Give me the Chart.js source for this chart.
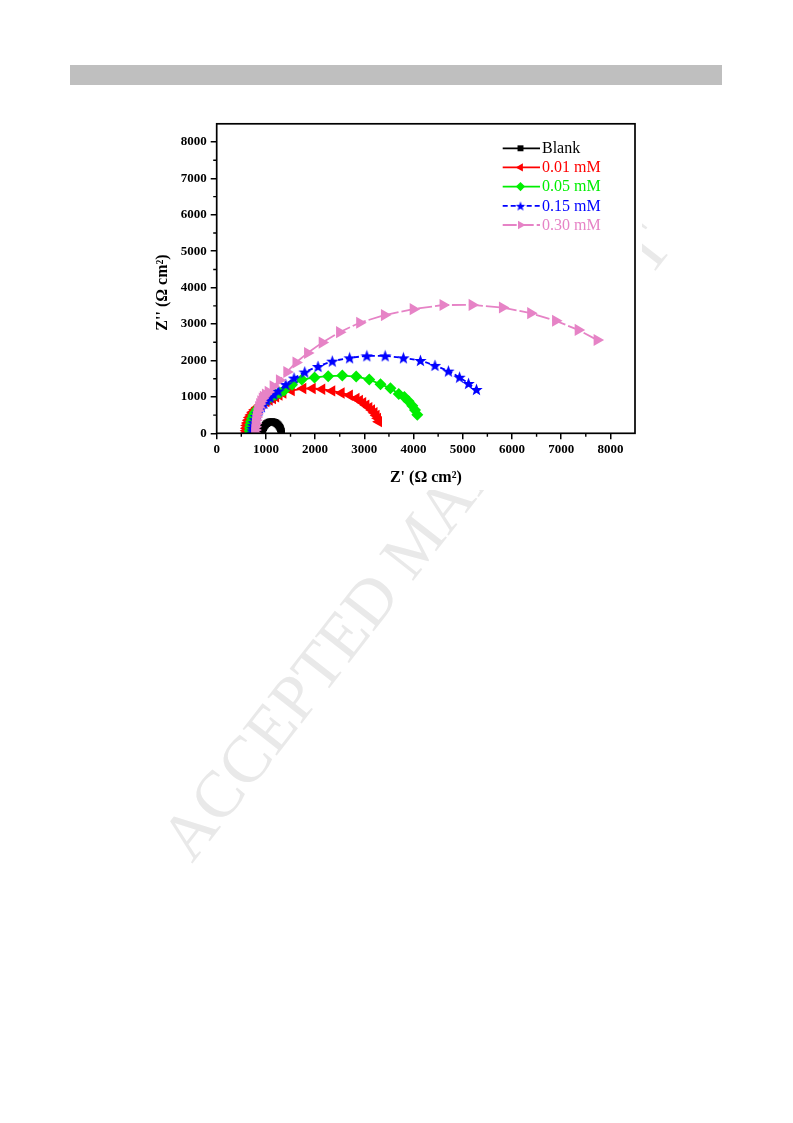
<!DOCTYPE html>
<html>
<head>
<meta charset="utf-8">
<script src="https://cdn.jsdelivr.net/npm/chart.js@4.4.0/dist/chart.umd.min.js"></script>
<style>
  body { margin: 0; background: #fff; }
  #page { position: relative; width: 793px; height: 1123px; overflow: hidden; background: #fff; }
  #bar { position: absolute; left: 70px; top: 65px; width: 652px; height: 20px; background: #bfbfbf; }
  #mark {
    position: absolute; left: 192px; top: 809px;
    font: 66px "Liberation Serif", serif; line-height: 66px;
    color: #e9e9e9; white-space: nowrap;
    transform-origin: 0 55px; transform: rotate(-52deg);
  }
  #chart { position: absolute; left: 150px; top: 112px; }
</style>
</head>
<body>
<div id="page">
  <div id="bar"></div>
  <div id="mark">ACCEPTED MANUSCRIPT</div>
  <canvas id="chart" width="492" height="378"></canvas>
</div>
<script>
// Nyquist plots, Z' (x) and Z'' (y) in ohm cm2
const seriesLabels = ['Blank', '0.01 mM', '0.05 mM', '0.15 mM', '0.30 mM'];

const blankX = [925, 930, 940, 953, 970, 990, 1013, 1038, 1065, 1093, 1121, 1149, 1176, 1202, 1226, 1248, 1267, 1283, 1296, 1306, 1313, 1318];
const blankY = [15, 65, 112, 157, 198, 234, 264, 288, 305, 315, 318, 313, 301, 283, 259, 230, 197, 162, 125, 88, 50, 14];

const redX = [600, 601, 605, 612, 625, 643, 666, 696, 731, 773, 822, 876, 937, 1003, 1070, 1138, 1201, 1270, 1349, 1519, 1754, 1944, 2139, 2342, 2532, 2700, 2835, 2905, 2970, 3035, 3095, 3150, 3200, 3242, 3272, 3292];
const redY = [0, 70, 140, 212, 285, 358, 432, 505, 576, 644, 708, 768, 822, 870, 912, 955, 1000, 1052, 1105, 1172, 1228, 1232, 1210, 1165, 1108, 1046, 958, 900, 838, 772, 706, 638, 566, 490, 410, 320];

const greenX = [670, 670, 675, 684, 698, 718, 744, 777, 816, 862, 916, 977, 1045, 1119, 1200, 1285, 1371, 1530, 1730, 1988, 2265, 2552, 2835, 3100, 3328, 3530, 3699, 3814, 3900, 3975, 4030, 4077];
const greenY = [0, 80, 160, 242, 325, 408, 490, 572, 652, 730, 805, 876, 943, 1005, 1062, 1115, 1175, 1335, 1475, 1535, 1568, 1585, 1558, 1480, 1345, 1240, 1080, 1000, 880, 760, 640, 510];

const blueX = [725, 726, 731, 740, 753, 772, 796, 826, 864, 908, 959, 1018, 1084, 1161, 1249, 1404, 1572, 1789, 2059, 2349, 2700, 3051, 3423, 3794, 4140, 4435, 4708, 4935, 5117, 5279];
const blueY = [0, 65, 135, 210, 290, 375, 462, 550, 640, 730, 820, 905, 985, 1070, 1160, 1340, 1517, 1682, 1836, 1982, 2073, 2127, 2127, 2073, 2000, 1864, 1709, 1540, 1368, 1204];

const pinkX = [775, 777, 781, 787, 795, 805, 818, 833, 852, 873, 897, 925, 948, 990, 1046, 1147, 1275, 1425, 1612, 1846, 2143, 2497, 2905, 3408, 3993, 4600, 5190, 5806, 6380, 6886, 7345, 7730];
const pinkY = [0, 90, 180, 270, 360, 450, 540, 630, 718, 802, 880, 955, 1005, 1065, 1137, 1290, 1456, 1682, 1945, 2204, 2491, 2777, 3036, 3246, 3410, 3523, 3527, 3455, 3300, 3091, 2840, 2564];

const xTicks = [0, 1000, 2000, 3000, 4000, 5000, 6000, 7000, 8000];
const yTicks = [0, 1000, 2000, 3000, 4000, 5000, 6000, 7000, 8000];
const minorTicks = [500, 1500, 2500, 3500, 4500, 5500, 6500, 7500];

function makeStar(size, color) {
  const c = document.createElement('canvas');
  c.width = size; c.height = size;
  const g = c.getContext('2d');
  const r = size / 2, ri = r * 0.42;
  g.beginPath();
  for (let i = 0; i < 10; i++) {
    const a = -Math.PI / 2 + i * Math.PI / 5;
    const rr = i % 2 ? ri : r;
    g.lineTo(r + rr * Math.cos(a), r + 0.6 + rr * Math.sin(a));
  }
  g.closePath();
  g.fillStyle = color;
  g.fill();
  return c;
}

const serif = '"Liberation Serif", "Times New Roman", serif';
const xs = [blankX, redX, greenX, blueX, pinkX];
const ys = [blankY, redY, greenY, blueY, pinkY];
const looks = [
  { color: '#000000', style: 'rect', rot: 0, r: 4.8, dash: [], lr: 4.2 },
  { color: '#ff0000', style: 'triangle', rot: -90, r: 6.6, dash: [], lr: 4.8 },
  { color: '#00ee00', style: 'rectRot', rot: 0, r: 6, dash: [], lr: 4.6 },
  { color: '#0000ff', style: makeStar(13, '#0000ff'), rot: 0, r: 6.5, dash: [5, 3], lr: 0, small: makeStar(10, '#0000ff') },
  { color: '#e683c6', style: 'triangle', rot: 90, r: 7, dash: [14, 3], lr: 5 }
];

const datasets = seriesLabels.map((label, i) => ({
  label: label,
  data: xs[i].map((x, k) => ({ x: x, y: ys[i][k] })),
  showLine: true,
  borderColor: looks[i].color,
  backgroundColor: looks[i].color,
  borderWidth: 1.8,
  borderDash: looks[i].dash,
  pointStyle: looks[i].style,
  pointRotation: looks[i].rot,
  pointRadius: looks[i].r,
  pointBorderWidth: 0,
  pointBackgroundColor: looks[i].color,
  tension: 0,
  order: seriesLabels.length - i
}));

const bgPlugin = {
  id: 'bg',
  beforeDraw(chart) {
    const c = chart.ctx;
    c.save();
    c.fillStyle = '#fff';
    c.fillRect(0, 0, chart.width, chart.height);
    c.restore();
  }
};

const framePlugin = {
  id: 'frame',
  afterDraw(chart) {
    const c = chart.ctx;
    const a = chart.chartArea;
    const sx = chart.scales.x, sy = chart.scales.y;
    c.save();
    c.strokeStyle = '#000';
    c.lineWidth = 1.7;
    c.strokeRect(a.left, a.top, a.right - a.left, a.bottom - a.top);
    // minor ticks
    c.lineWidth = 1.4;
    c.beginPath();
    minorTicks.forEach(v => {
      const px = sx.getPixelForValue(v);
      c.moveTo(px, a.bottom); c.lineTo(px, a.bottom + 3.5);
      const py = sy.getPixelForValue(v);
      c.moveTo(a.left, py); c.lineTo(a.left - 3.5, py);
    });
    c.stroke();

    // legend
    const x0 = 352.7, x1 = 390, xm = 370.5, xt = 392;
    const rows = [36.3, 55.4, 74.6, 93.8, 113];
    c.font = '16px ' + serif;
    c.textBaseline = 'middle';
    c.textAlign = 'left';
    datasets.forEach((d, i) => {
      const lk = looks[i];
      const y = rows[i];
      c.strokeStyle = lk.color;
      c.fillStyle = lk.color;
      c.lineWidth = 1.8;
      c.setLineDash(lk.dash);
      c.beginPath(); c.moveTo(x0, y); c.lineTo(x1, y); c.stroke();
      c.setLineDash([]);
      Chart.helpers.drawPoint(c, {
        pointStyle: lk.small || lk.style,
        rotation: lk.rot,
        radius: lk.lr,
        borderWidth: 0
      }, xm, y);
      c.fillStyle = lk.color;
      c.fillText(d.label, xt, y + 0.5);
    });
    c.restore();
  }
};

const tickFont = { family: serif, size: 13, weight: 'bold' };
const titleFont = { family: serif, size: 16, weight: 'bold' };

new Chart(document.getElementById('chart').getContext('2d'), {
  type: 'scatter',
  data: { datasets: datasets },
  options: {
    responsive: false,
    animation: false,
    devicePixelRatio: 1,
    layout: { padding: { top: 10.3, right: 4.3, left: 0, bottom: 0 } },
    plugins: { legend: { display: false }, tooltip: { enabled: false } },
    scales: {
      x: {
        type: 'linear', min: 0, max: 8500,
        afterBuildTicks: s => { s.ticks = xTicks.map(v => ({ value: v })); },
        afterFit: s => { s.height = 56.7; },
        border: { display: false },
        grid: { drawOnChartArea: false, tickLength: 6, color: '#000', lineWidth: 1.5 },
        ticks: { color: '#000', font: tickFont, padding: 3, maxRotation: 0, autoSkip: false, callback: v => String(v) },
        title: { display: true, text: "Z' (\u03a9 cm\u00b2)", color: '#000', font: titleFont, padding: { top: 0, bottom: 2.4 } }
      },
      y: {
        type: 'linear', min: 0, max: 8500,
        afterBuildTicks: s => { s.ticks = yTicks.map(v => ({ value: v })); },
        afterFit: s => { s.width = 66.7; },
        border: { display: false },
        grid: { drawOnChartArea: false, tickLength: 6, color: '#000', lineWidth: 1.5 },
        ticks: { color: '#000', font: tickFont, padding: 4, autoSkip: false, callback: v => String(v) },
        title: { display: true, text: "Z'' (\u03a9 cm\u00b2)\u00a0\u00a0\u00a0\u00a0\u00a0\u00a0\u00a0", color: '#000', font: titleFont, padding: { top: 3.4, bottom: 0 } }
      }
    }
  },
  plugins: [bgPlugin, framePlugin]
});
</script>
</body>
</html>
